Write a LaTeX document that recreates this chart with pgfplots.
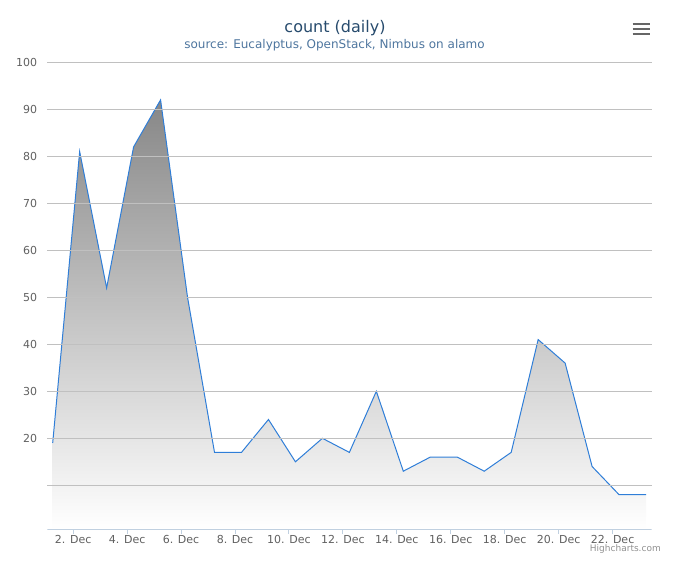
\documentclass[border=0pt]{standalone}
\usepackage{fontspec}
\setmainfont{DejaVu Sans}
\usepackage{pgfplots}
\pgfplotsset{compat=1.18}
\definecolor{titlec}{HTML}{274B6D}
\definecolor{subc}{HTML}{4D759E}
\definecolor{tickc}{HTML}{606060}
\definecolor{gridc}{HTML}{C0C0C0}
\definecolor{axisc}{HTML}{C0D0E0}
\definecolor{linec}{HTML}{2F7ED8}
\definecolor{fillc}{HTML}{878787}
\definecolor{creditc}{HTML}{909090}
\definecolor{menuc}{HTML}{666666}
\begin{document}
\begin{tikzpicture}[x=1pt,y=1pt]
\useasboundingbox (0pt,0pt) rectangle (680pt,566pt);
\begin{axis}[
  at={(47.3pt,37pt)}, anchor=south west,
  scale only axis, width=604.4pt, height=466.7pt,
  xmin=1.04, xmax=23.45, ymin=0.7, ymax=100,
  axis on top,
  axis line style={draw=none},
  ymajorgrids, grid style={gridc, line width=1pt},
  ytick={10,20,...,100},
  yticklabels={,20,30,40,50,60,70,80,90,100},
  ytick style={draw=none},
  yticklabel style={anchor=east, inner sep=0pt, xshift=-5pt, font=\fontsize{11}{13}\selectfont, text=tickc},
  xtick={2,4,...,22},
  xticklabels={2. Dec,4. Dec,6. Dec,8. Dec,10. Dec,12. Dec,14. Dec,16. Dec,18. Dec,20. Dec,22. Dec},
  xtick pos=bottom, tick align=outside, major tick length=5pt,
  xtick style={axisc, line width=1pt},
  xticklabel style={anchor=north, inner sep=0pt, yshift=-1pt, font=\fontsize{11}{13}\selectfont, text=tickc},
  clip=true,
]
\addplot[draw=none, top color=fillc, bottom color=white] coordinates {
(1.24,19) (2.24,81) (3.24,52) (4.24,82) (5.24,92) (6.24,50) (7.24,17) (8.24,17)
(9.24,24) (10.24,15) (11.24,20) (12.24,17) (13.24,30) (14.24,13) (15.24,16)
(16.24,16) (17.24,13) (18.24,17) (19.24,41) (20.24,36) (21.24,14) (22.24,8) (23.24,8)
} \closedcycle;
\addplot[draw=linec, line width=1pt, mark=none] coordinates {
(1.24,19) (2.24,81) (3.24,52) (4.24,82) (5.24,92) (6.24,50) (7.24,17) (8.24,17)
(9.24,24) (10.24,15) (11.24,20) (12.24,17) (13.24,30) (14.24,13) (15.24,16)
(16.24,16) (17.24,13) (18.24,17) (19.24,41) (20.24,36) (21.24,14) (22.24,8) (23.24,8)
};
\draw[axisc, line width=1pt] (rel axis cs:0,0) -- (rel axis cs:1,0);
\end{axis}
\node[text=titlec, font=\fontsize{16}{19}\selectfont] at (335pt,537.5pt) {count (daily)};
\node[text=subc, font=\fontsize{12}{14}\selectfont] at (334.5pt,521pt) {source: Eucalyptus, OpenStack, Nimbus on alamo};
\node[text=creditc, anchor=east, inner sep=0pt, font=\fontsize{9}{11}\selectfont] at (661pt,17pt) {Highcharts.com};
\draw[menuc, line width=2.2pt] (632.5pt,541.7pt) -- (650pt,541.7pt) (632.5pt,536.7pt) -- (650pt,536.7pt) (632.5pt,531.7pt) -- (650pt,531.7pt);
\end{tikzpicture}
\end{document}
